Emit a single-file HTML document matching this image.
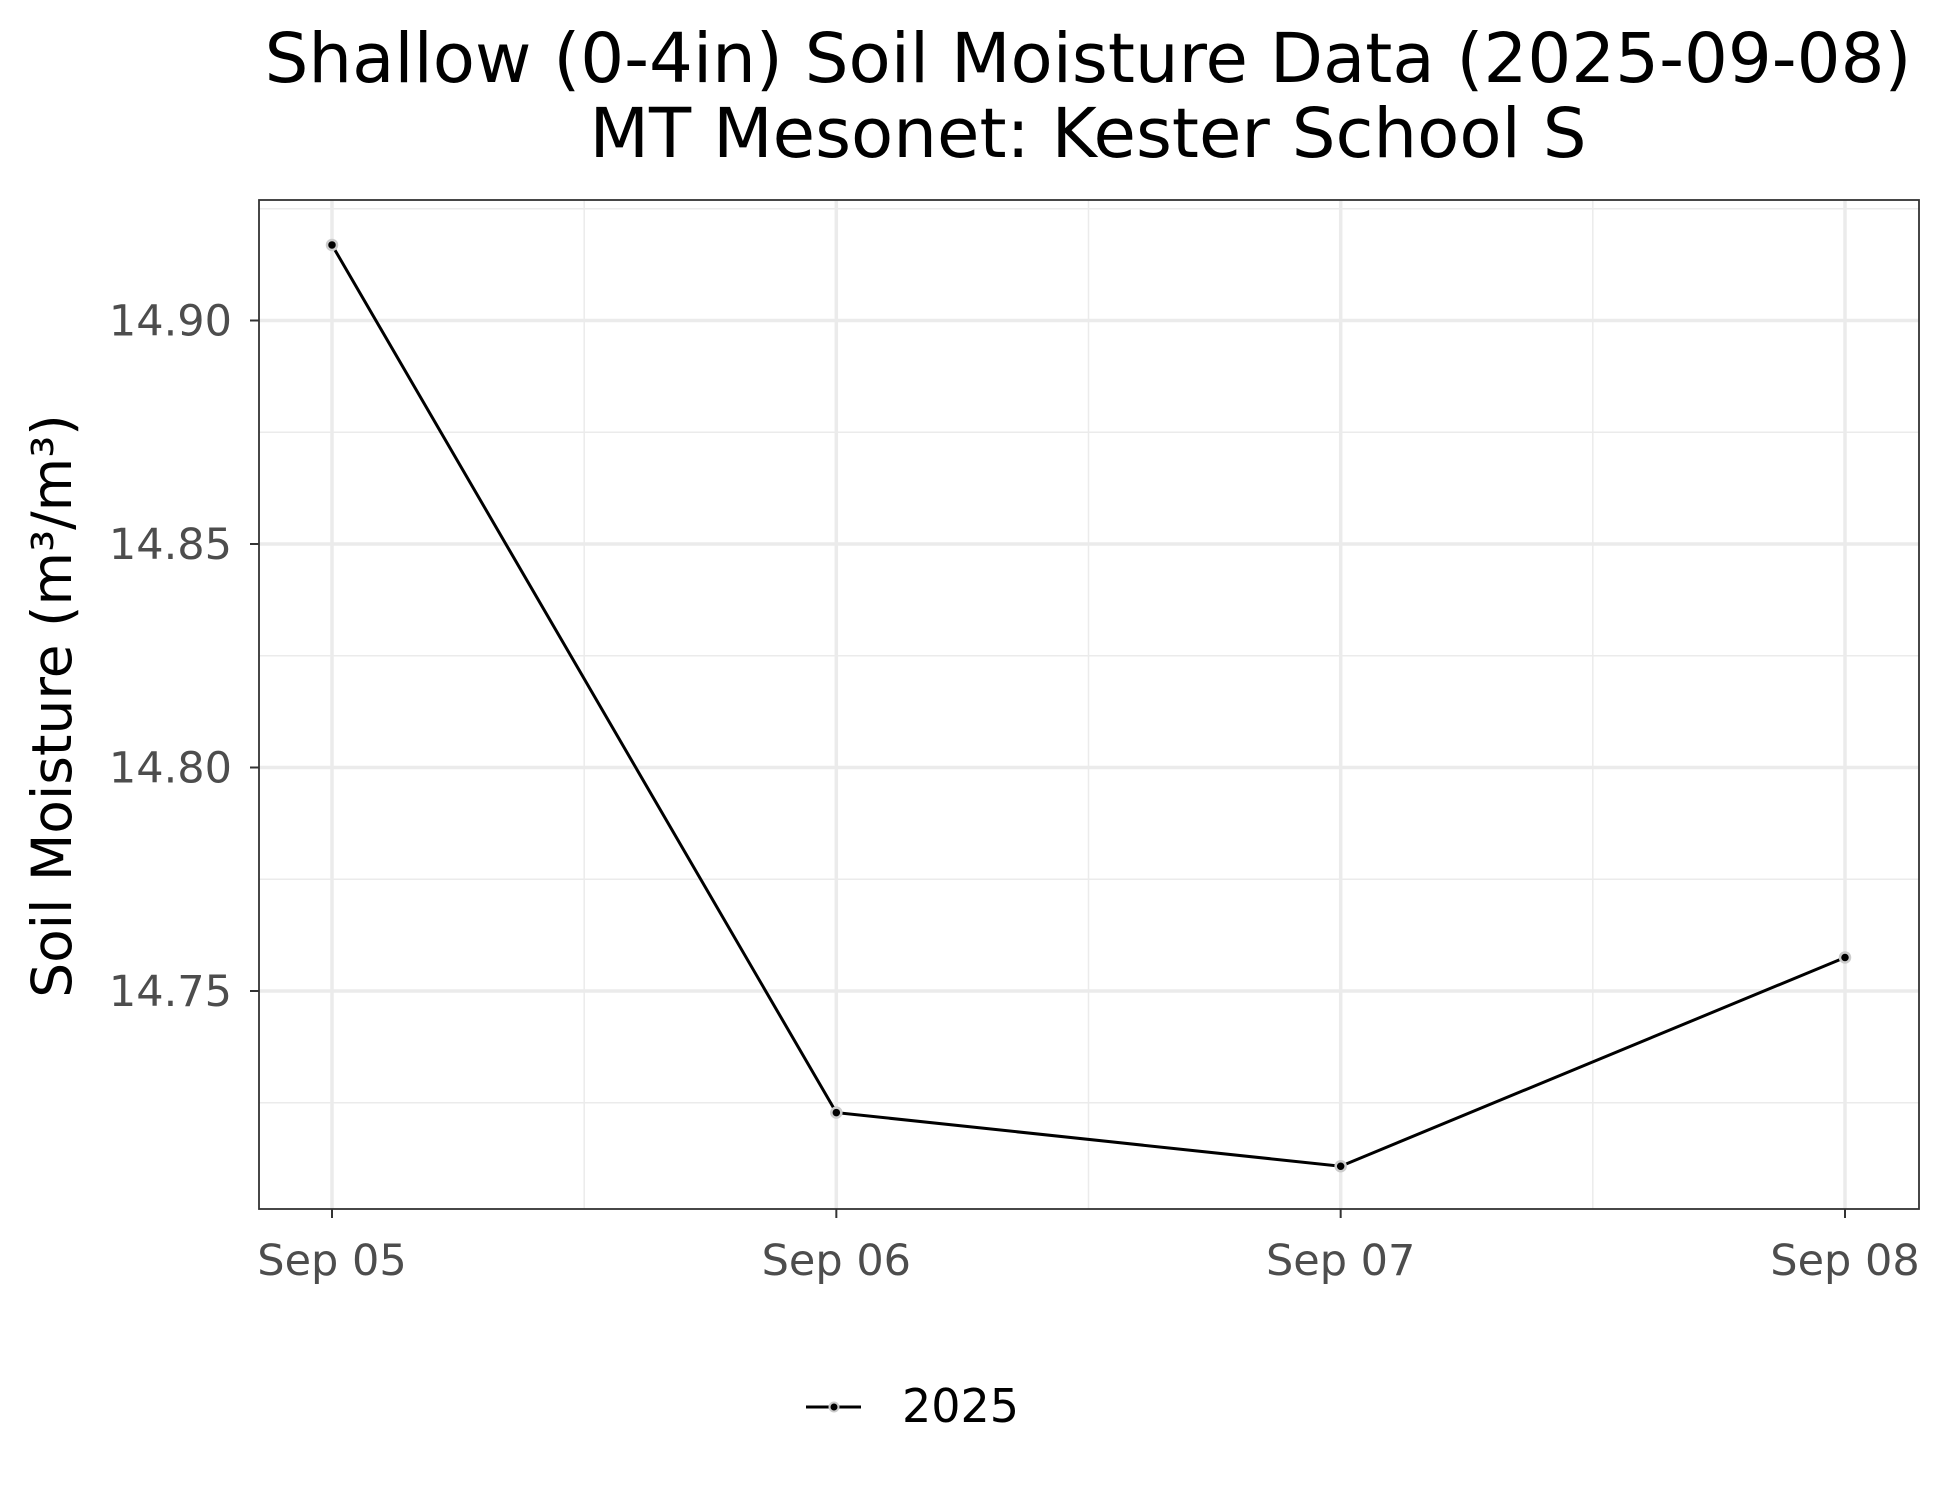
<!DOCTYPE html>
<html><head><meta charset="utf-8"><style>body{margin:0;background:#fff}svg{display:block;font-family:"DejaVu Sans","Liberation Sans",sans-serif}</style></head>
<body>
<svg id="chart" width="1950" height="1500" viewBox="0 0 1950 1500">
<rect width="1950" height="1500" fill="#fff"/>
<text x="1088" y="82" font-size="69" text-anchor="middle">Shallow (0-4in) Soil Moisture Data (2025-09-08)</text>
<text x="1088" y="157" font-size="69" text-anchor="middle">MT Mesonet: Kester School S</text>
<g id="grid"></g>
<g id="axes"></g>
<g id="series"></g>
<rect x="259" y="200" width="1660" height="1009" fill="none" stroke="#333" stroke-width="1.8"/>
<text transform="translate(71,706) rotate(-90)" font-size="55" text-anchor="middle">Soil Moisture (m³/m³)</text>
<g>
<line x1="806" y1="1407" x2="861" y2="1407" stroke="#000" stroke-width="3"/>
<circle cx="834" cy="1407" r="4.5" fill="#000" stroke="#ccc" stroke-width="2"/>
<text x="902" y="1422" font-size="46">2025</text>
</g>
</svg>
<script>
const categories = ["Sep 05","Sep 06","Sep 07","Sep 08"];
const values = [14.9169, 14.7228, 14.7108, 14.7575];
const yTicks = [14.75, 14.80, 14.85, 14.90];
const yTickLabels = ["14.75","14.80","14.85","14.90"];
const NS="http://www.w3.org/2000/svg";
const L=259,R=1919,T=200,B=1209;
const xScale=i=>332+i*(1845-332)/(categories.length-1);
const yScale=v=>991-(v-14.75)*(223.5/0.05);
function mk(tag,attrs,parent){const e=document.createElementNS(NS,tag);for(const k in attrs)e.setAttribute(k,attrs[k]);parent.appendChild(e);return e;}
const grid=document.getElementById('grid'),axes=document.getElementById('axes'),series=document.getElementById('series');
for(let i=0;i<yTicks.length+1;i++){const v=yTicks[0]-0.025+i*0.05;const y=yScale(v);if(y<T||y>B)continue;
 const l=mk('line',{x1:L,x2:R,y1:y,y2:y,stroke:'#ebebeb','stroke-width':1.5},grid);
 }
for(let i=0;i<categories.length-1;i++){const x=(xScale(i)+xScale(i+1))/2;
 const l=mk('line',{x1:x,x2:x,y1:T,y2:B,stroke:'#ebebeb','stroke-width':1.5},grid);
 }
yTicks.forEach((v,i)=>{const y=yScale(v);
 const g=mk('line',{x1:L,x2:R,y1:y,y2:y,stroke:'#ebebeb','stroke-width':3.5},grid);
 
 const t=mk('line',{x1:L-9,x2:L,y1:y,y2:y,stroke:'#333','stroke-width':2},axes);
 
 const tx=mk('text',{x:L-27,y:y+15,'font-size':43,'text-anchor':'end',fill:'#4d4d4d'},axes);tx.textContent=yTickLabels[i];
 });
categories.forEach((c,i)=>{const x=xScale(i);
 const g=mk('line',{x1:x,x2:x,y1:T,y2:B,stroke:'#ebebeb','stroke-width':3.5},grid);
 
 const t=mk('line',{x1:x,x2:x,y1:B,y2:B+9,stroke:'#333','stroke-width':2},axes);
 
 const tx=mk('text',{x:x,y:1275,'font-size':43,'text-anchor':'middle',fill:'#4d4d4d'},axes);tx.textContent=c;
 });
const pts=values.map((v,i)=>xScale(i)+','+yScale(v)).join(' ');
const pl=mk('polyline',{points:pts,fill:'none',stroke:'#000','stroke-width':3},series);

values.forEach((v,i)=>{const c=mk('circle',{cx:xScale(i),cy:yScale(v),r:5,fill:'#000',stroke:'#ccc','stroke-width':2.5},series);
 });
</script>
</body></html>
